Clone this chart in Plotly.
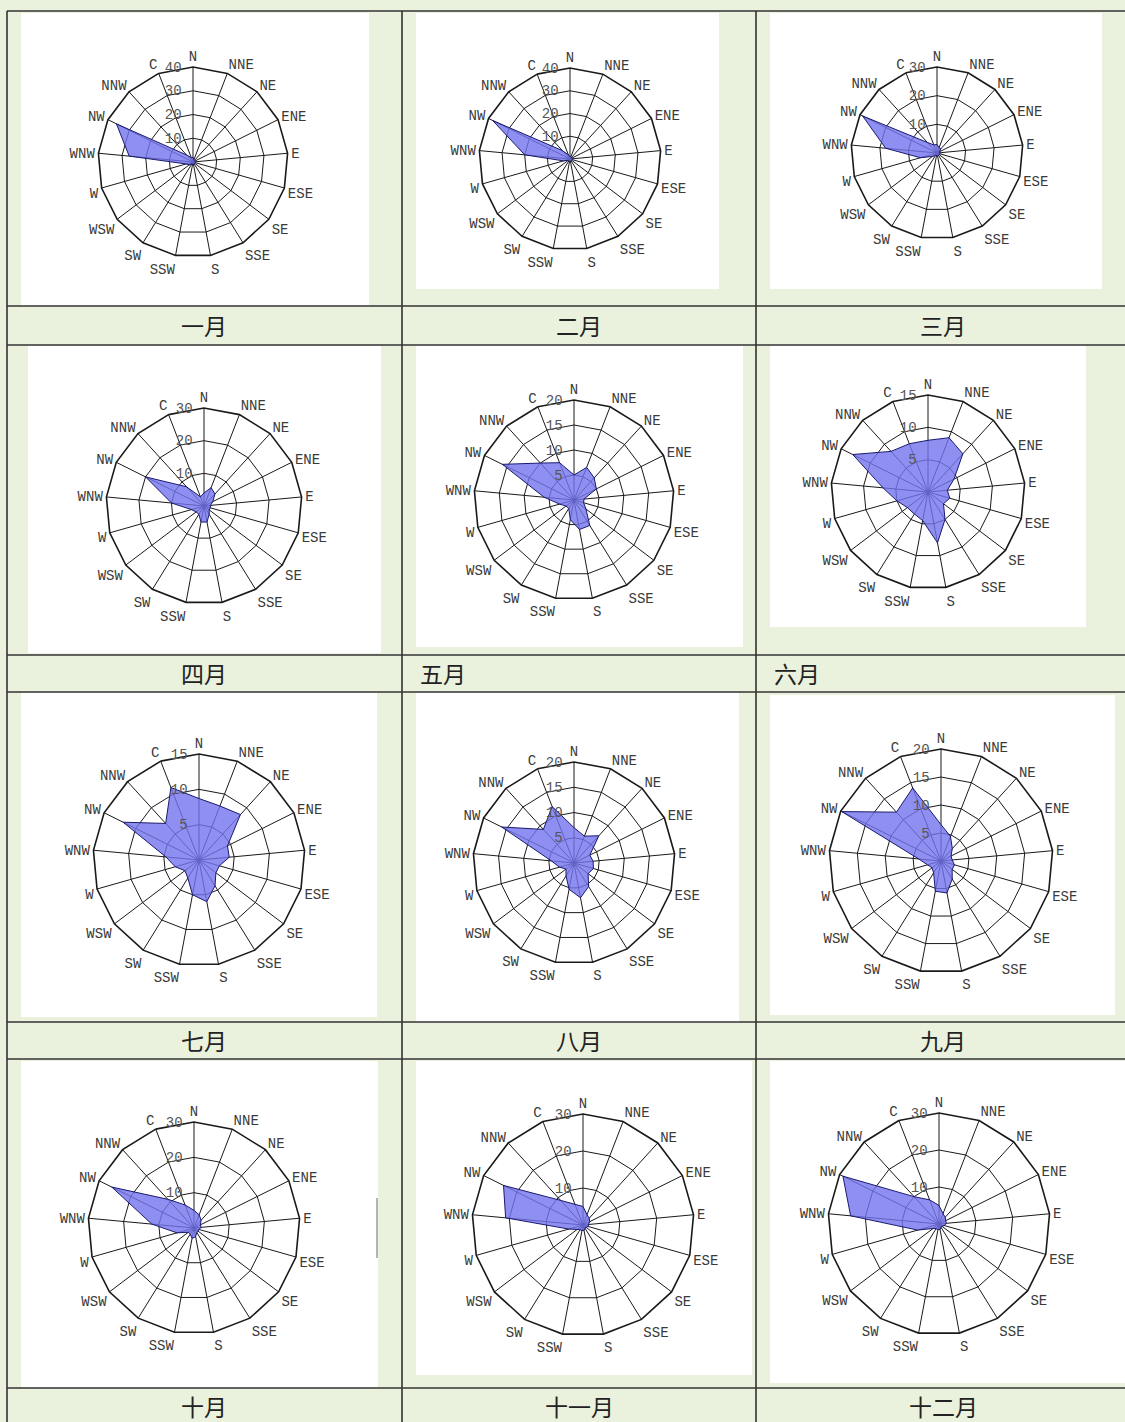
import plotly.graph_objects as go

W, H = 1125, 1422

# ---------------- data ----------------
DIRECTIONS = ["N", "NNE", "NE", "ENE", "E", "ESE", "SE", "SSE", "S",
              "SSW", "SW", "WSW", "W", "WNW", "NW", "NNW", "C"]
MONTHS = ["一月", "二月", "三月", "四月", "五月", "六月",
          "七月", "八月", "九月", "十月", "十一月", "十二月"]

jan = [2, 1, 1, 1, 1, 1, 1, 1, 1, 1, 1, 2, 3, 27, 36, 4, 2]
feb = [1, 1, 1, 1, 1, 1, 1, 1, 1, 1, 1, 1, 3, 20, 38, 5, 2]
mar = [3, 2, 2, 1, 1, 1, 1, 1, 1, 1, 1, 2, 6, 18, 29, 5, 3]
apr = [4, 6, 5, 3, 2, 2, 2, 3, 5, 5, 3, 3, 4, 10, 20, 8, 3]
may = [5, 7, 6, 5, 2, 2, 3, 6, 6, 4, 2, 2, 3, 6, 16, 10, 8]
jun = [8, 9, 8, 4.5, 3, 3.5, 3, 5, 8, 4.5, 4, 4, 5, 7, 13, 8.5, 8]
jul = [8.7, 8.2, 8.7, 4.5, 4.3, 3, 3, 4.3, 6, 5, 3, 2.5, 3.5, 4.7, 12, 7, 11]
aug = [7, 5.7, 7.3, 3.5, 3.8, 4, 3.5, 5.5, 7, 5.3, 3, 2, 3, 4.5, 16, 9, 12]
sep = [6.5, 4.7, 3, 2, 2, 2.5, 2.5, 3.8, 5.8, 5.5, 2.5, 2, 2.5, 4, 19.8, 11.8, 14]
oct_ = [5, 4, 3, 2, 2, 1.5, 1.5, 1.5, 2.5, 3, 2, 2, 5, 12, 26, 11, 7]
nov = [5, 3, 2.5, 2, 1.5, 1.5, 1, 1, 1.5, 1.5, 1.5, 2, 4, 21, 24, 9, 6]
dec = [5, 3, 2.5, 2, 2, 1.5, 1, 1, 1.5, 1.5, 1.5, 2, 6, 24, 29, 10, 7]
SERIES = [jan, feb, mar, apr, may, jun, jul, aug, sep, oct_, nov, dec]

RADIAL_MAX = [40, 40, 30, 30, 20, 15, 15, 20, 20, 30, 30, 30]
RADIAL_TICKS = [[10, 20, 30, 40], [10, 20, 30, 40], [10, 20, 30], [10, 20, 30],
                [5, 10, 15, 20], [5, 10, 15], [5, 10, 15], [5, 10, 15, 20],
                [5, 10, 15, 20], [10, 20, 30], [10, 20, 30], [10, 20, 30]]

# ---------------- layout (pixels) ----------------
# polar centre x, centre y, radius
POLAR_GEOM = [(193, 162, 95), (570, 159, 91), (937, 153, 86),
              (204, 506, 98), (574, 500, 100), (928, 492, 97),
              (199, 860, 106), (574, 863, 101), (941, 861, 112),
              (194, 1228, 106), (583, 1225, 111), (939, 1224, 111)]
# white picture areas x0, x1, y0, y1
WHITE_AREAS = [(21, 369, 13, 306), (416, 719, 13, 289), (770, 1102, 13, 289),
               (28, 381, 346, 653), (416, 743, 345, 647), (770, 1086, 345, 627),
               (21, 377, 693, 1017), (416, 739, 693, 1022), (770, 1115, 695, 1015),
               (21, 378, 1061, 1387), (416, 752, 1061, 1375), (770, 1125, 1061, 1383)]
# month label positions x, y, anchor
LABEL_POS = [(204, 325, "center"), (579, 325, "center"), (943, 325, "center"),
             (204, 673, "center"), (418, 673, "left"), (772, 673, "left"),
             (204, 1040, "center"), (579, 1040, "center"), (943, 1040, "center"),
             (204, 1406, "center"), (579, 1406, "center"), (943, 1406, "center")]
H_LINES = [11, 306, 345, 655, 692, 1022, 1059, 1388]
V_LINES = [7, 402, 756]

BG = "#EAF1DD"
GRID = "#1a1a1a"
FILL = "rgba(115,115,238,0.80)"
EDGE = "#1a1a6e"
TICKFONT = dict(family="Liberation Mono", size=14, color="#3a3a3a")


def px_x(v):
    return v / W


def px_y(v):
    return 1 - v / H


fig = go.Figure()
layout_polars = {}

for i, vals in enumerate(SERIES):
    name = "polar" if i == 0 else f"polar{i + 1}"
    cx, cy, R = POLAR_GEOM[i]
    fig.add_trace(go.Scatterpolar(
        r=vals + [vals[0]],
        theta=DIRECTIONS + [DIRECTIONS[0]],
        mode="lines",
        fill="toself",
        fillcolor=FILL,
        line=dict(color=EDGE, width=1),
        subplot=name,
        showlegend=False,
        hoverinfo="skip",
    ))
    layout_polars[name] = dict(
        domain=dict(x=[px_x(cx - R), px_x(cx + R)],
                    y=[px_y(cy + R), px_y(cy - R)]),
        bgcolor="white",
        gridshape="linear",
        angularaxis=dict(
            type="category",
            categoryarray=DIRECTIONS,
            direction="clockwise",
            rotation=90,
            showgrid=True,
            gridcolor=GRID,
            gridwidth=1.3,
            showline=True,
            linecolor=GRID,
            linewidth=1.6,
            ticks="",
            tickfont=TICKFONT,
        ),
        radialaxis=dict(
            range=[0, RADIAL_MAX[i]],
            tickvals=RADIAL_TICKS[i],
            ticktext=[str(t) for t in RADIAL_TICKS[i]],
            showgrid=True,
            gridcolor=GRID,
            gridwidth=1.3,
            showline=False,
            ticks="outside",
            ticklen=6,
            tickcolor="rgba(0,0,0,0)",
            angle=90,
            side="counterclockwise",
            tickangle=90,
            tickfont=dict(family="Liberation Mono", size=14, color="#555555"),
        ),
    )

shapes = []
for (x0, x1, y0, y1) in WHITE_AREAS:
    shapes.append(dict(type="rect", xref="paper", yref="paper",
                       x0=px_x(x0), x1=px_x(x1), y0=px_y(y1), y1=px_y(y0),
                       fillcolor="white", line=dict(width=0), layer="below"))
for y in H_LINES:
    shapes.append(dict(type="line", xref="paper", yref="paper",
                       x0=px_x(7), x1=1, y0=px_y(y), y1=px_y(y),
                       line=dict(color="#333333", width=1.6), layer="below"))
for x in V_LINES:
    shapes.append(dict(type="line", xref="paper", yref="paper",
                       x0=px_x(x), x1=px_x(x), y0=0, y1=px_y(11),
                       line=dict(color="#333333", width=1.6), layer="below"))
# small grey artefact at right edge of the October picture
shapes.append(dict(type="line", xref="paper", yref="paper",
                   x0=px_x(377), x1=px_x(377), y0=px_y(1258), y1=px_y(1198),
                   line=dict(color="#9a9a9a", width=1.5), layer="below"))

annotations = []
for i, m in enumerate(MONTHS):
    x, y, anc = LABEL_POS[i]
    annotations.append(dict(text=m, xref="paper", yref="paper",
                            x=px_x(x), y=px_y(y), xanchor=anc, yanchor="middle",
                            showarrow=False,
                            font=dict(family="Noto Sans CJK SC", size=23,
                                      color="#222222")))

fig.update_layout(
    width=W, height=H,
    margin=dict(l=0, r=0, t=0, b=0),
    paper_bgcolor=BG,
    plot_bgcolor=BG,
    shapes=shapes,
    annotations=annotations,
    showlegend=False,
    **layout_polars,
)

fig.write_html(
    "out.html",
    config={"displayModeBar": False},
    post_script="document.body.style.margin='0';"
                "document.body.style.background='#EAF1DD';"
                "document.body.style.overflow='hidden';",
)
